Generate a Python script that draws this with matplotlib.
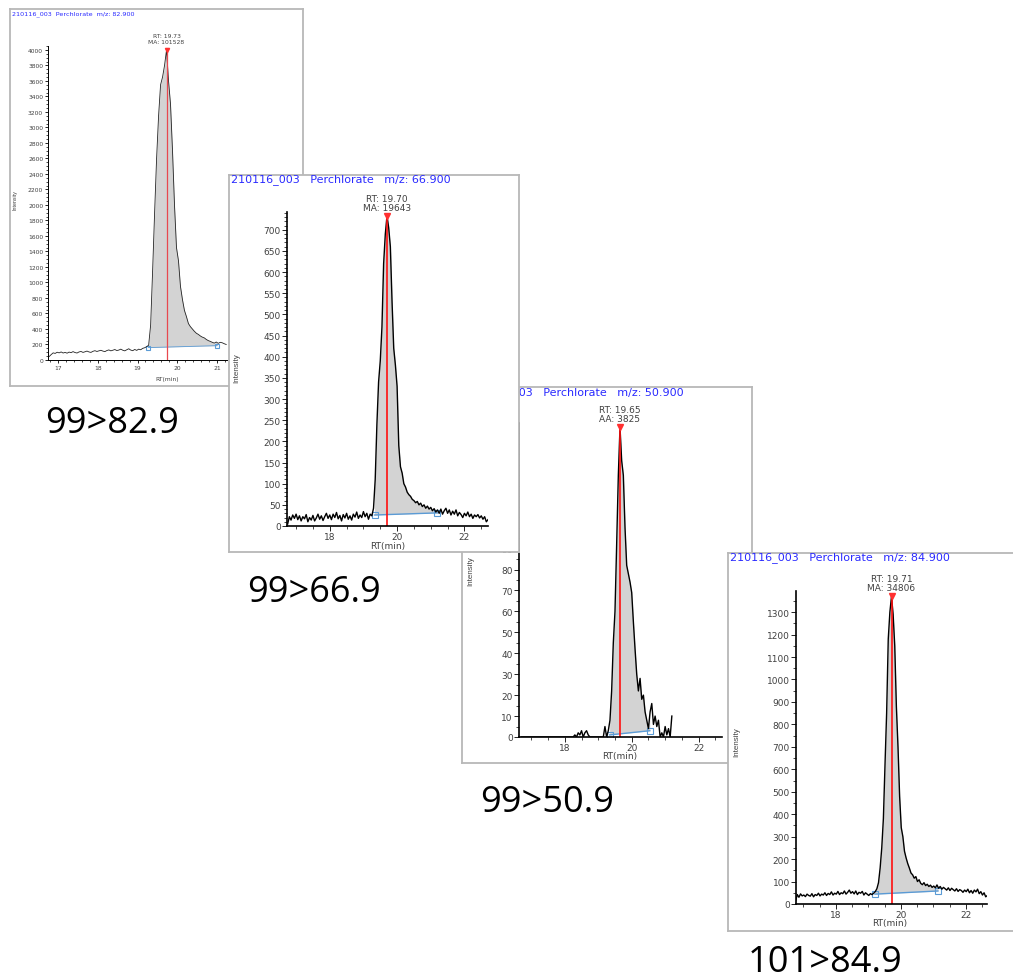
import matplotlib.pyplot as plt
import numpy as np
from matplotlib.ticker import MultipleLocator

# ---- data (0.05 min scan grid) ----
step = 0.05

# 99 > 82.9
start_829 = 16.78
int_829 = [45, 70, 92, 85, 100, 92, 104, 90, 98, 88,
           102, 95, 108, 96, 90, 104, 110, 98, 106, 115,
           104, 98, 112, 120, 110, 118, 125, 115, 108, 122,
           130, 118, 126, 135, 122, 128, 140, 126, 118, 132,
           145, 128, 120, 136, 124, 140, 132, 150, 158, 172,
           190, 450, 1150, 1900, 2600, 3150, 3550, 3650, 3800, 4000,
           3600, 3300, 2700, 2000, 1450, 1280, 950, 780, 640, 560,
           470, 430, 400, 370, 345, 330, 310, 295, 285, 265,
           250, 240, 228, 218, 232, 215, 228, 222, 210, 200]
rt_829 = 19.73
note_829 = 'RT: 19.73\nMA: 101528'
base_829 = ([19.27, 21.0], [160, 185])

# 99 > 66.9
start_669 = 16.75
int_669 = [5, 22, 14, 26, 18, 28, 15, 24, 12, 22,
           17, 27, 10, 20, 14, 25, 12, 19, 28, 16,
           24, 13, 22, 30, 18, 26, 15, 28, 20, 32,
           17, 25, 12, 27, 19, 30, 16, 24, 14, 28,
           21, 33, 18, 26, 20, 34, 22, 30, 16, 28,
           24, 42, 110, 240, 340, 390, 470, 620, 690, 733,
           705, 660, 530, 420, 380, 330, 190, 140, 125, 100,
           92, 80, 74, 70, 63, 60, 55, 58, 50, 54,
           46, 50, 42, 47, 40, 44, 36, 41, 33, 38,
           30, 40, 28, 36, 42, 30, 38, 26, 35, 28,
           38, 24, 32, 27, 20, 30, 24, 33, 22, 28,
           18, 26, 22, 27, 19, 24, 16, 22, 10, 15]
rt_669 = 19.70
note_669 = 'RT: 19.70\nMA: 19643'
base_669 = ([19.33, 21.2], [26, 31])

# 99 > 50.9
start_509 = 16.70
int_509 = [0, 0, 0, 0, 0, 0, 0, 0, 0, 0,
           0, 0, 0, 0, 0, 0, 0, 0, 0, 0,
           0, 0, 0, 0, 0, 0, 0, 0, 0, 0,
           0, 0, 1, 0, 2, 1, 3, 0, 2, 3,
           1, 0, 0, 0, 0, 0, 0, 0, 0, 0,
           5, 0, 3, 8, 22, 45, 60, 92, 125, 148,
           132, 125, 100, 82, 78, 74, 69, 55, 42, 30,
           22, 28, 18, 20, 12, 8, 4, 12, 16, 6,
           10, 5, 8, 0, 2, 0, 5, 1, 4, 0,
           10]
rt_509 = 19.65
note_509 = 'RT: 19.65\nAA: 3825'
base_509 = ([19.34, 20.54], [1, 3])

# 101 > 84.9
start_849 = 16.76
int_849 = [15, 42, 30, 45, 36, 40, 33, 44, 38, 35,
           46, 32, 42, 38, 48, 36, 44, 40, 50, 38,
           47, 42, 54, 40, 48, 44, 56, 42, 50, 46,
           58, 44, 52, 62, 48, 55, 45, 58, 42, 52,
           48, 56, 40, 50, 44, 38, 46, 42, 48, 55,
           68, 95, 160, 250, 380, 620, 850, 1180, 1300, 1370,
           1290, 1150, 880, 700, 480, 340, 300, 235, 205, 180,
           160, 138, 130, 115, 122, 100, 108, 92, 86, 95,
           82, 88, 78, 84, 74, 80, 72, 85, 70, 78,
           66, 74, 68, 62, 72, 60, 70, 64, 58, 68,
           56, 64, 60, 52, 62, 55, 66, 50, 60, 48,
           62, 54, 66, 46, 55, 40, 50, 32, 38]
rt_849 = 19.71
note_849 = 'RT: 19.71\nMA: 34806'
base_849 = ([19.2, 21.14], [44, 58])

titles = ['210116_003  Perchlorate  m/z: 82.900',
          '210116_003   Perchlorate   m/z: 66.900',
          '210116_003   Perchlorate   m/z: 50.900',
          '210116_003   Perchlorate   m/z: 84.900']
transitions = ['99>82.9', '99>66.9', '99>50.9', '101>84.9']

# ---- figure, positions given in screenshot pixels ----
W, H = 1013, 979
fig = plt.figure(figsize=(W / 100, H / 100), dpi=100)


def to_fig(box):
    x0, y0, x1, y1 = box
    return [x0 / W, 1 - y1 / H, (x1 - x0) / W, (y1 - y0) / H]


def panel(z, frame_box, ax_box, start, vals, rt, note, base, xlim, ylim,
          ymaj, ymin, xmaj, xmin, title, title_xy, ylab_xy, xlab_xy, small=False):
    fs = 4.3 if small else 6.5
    # the grey screenshot frame
    fr = fig.add_axes(to_fig(frame_box), zorder=z)
    fr.set_xlim(frame_box[0], frame_box[2])
    fr.set_ylim(frame_box[3], frame_box[1])
    fr.set_xticks([])
    fr.set_yticks([])
    for s in fr.spines.values():
        s.set_color('#b8b8b8')
        s.set_linewidth(1.3)
    fr.text(title_xy[0], title_xy[1], title, color='#2a2aff',
            fontsize=4.6 if small else 8, ha='left', va='center')
    fr.text(ylab_xy[0], ylab_xy[1], 'Intensity', rotation=90, color='#404040',
            fontsize=3.8 if small else 5.8, family='Liberation Sans',
            ha='center', va='center')
    fr.text(xlab_xy[0], xlab_xy[1], 'RT(min)', color='#404040', fontsize=fs,
            ha='center', va='center')

    t = np.round(start + step * np.arange(len(vals)), 2)
    y = np.array(vals, dtype=float)

    ax = fig.add_axes(to_fig(ax_box), zorder=z + 1)
    ax.patch.set_alpha(0)
    lw = 0.6 if small else 1.0

    # integrated area
    a, b = base[0]
    m = (t > a) & (t < b)
    tt = np.concatenate([[a], t[m], [b]])
    yy = np.interp(tt, t, y)
    bb = np.interp(tt, base[0], base[1])
    ax.fill_between(tt, bb, yy, color='#d3d3d3', lw=0)
    ax.plot(base[0], base[1], color='#5b9bd5', lw=lw, marker='s',
            ms=3 if small else 4.5, mfc='none', mec='#5b9bd5', mew=0.8)

    ax.plot(t, y, color='#222222' if small else 'black', lw=lw)
    peak = y[np.argmin(np.abs(t - rt))]
    ax.vlines(rt, 0, peak, color='#e8484f' if small else '#ff1010', lw=0.9 if small else 1.2)
    ax.plot([rt], [peak], marker='v', ms=3 if small else 4.5, color='#ff3030')
    ax.annotate(note, (rt, peak), xytext=(0, 4 if small else 3), textcoords='offset points',
                ha='center', va='bottom', fontsize=fs, color='#404040',
                linespacing=1.45 if small else 1.0, annotation_clip=False)

    ax.set_xlim(*xlim)
    ax.set_ylim(*ylim)
    ax.spines['top'].set_visible(False)
    ax.spines['right'].set_visible(False)
    for s in ('left', 'bottom'):
        ax.spines[s].set_linewidth(0.7 if small else 1.2)
    ax.yaxis.set_major_locator(MultipleLocator(ymaj))
    ax.yaxis.set_minor_locator(MultipleLocator(ymin))
    ax.xaxis.set_major_locator(MultipleLocator(xmaj))
    ax.xaxis.set_minor_locator(MultipleLocator(xmin))
    ax.tick_params(which='major', length=2.5 if small else 3.5, width=0.6,
                   labelsize=fs, labelcolor='#404040', pad=1)
    ax.tick_params(which='minor', length=1.3 if small else 2.2, width=0.5)
    return ax


panel(1, (10, 10, 303, 387), (48, 47, 227, 361), start_829, int_829, rt_829, note_829,
      base_829, (16.75, 21.25), (0, 4050), 200, 50, 1, 0.2, titles[0],
      (12, 14), (15, 200), (167, 379), small=True)
panel(3, (462, 388, 752, 764), (519, 424, 722, 738), start_509, int_509, rt_509, note_509,
      base_509, (16.63, 22.7), (0, 150), 10, 5, 2, 0.5, titles[2],
      (464, 393), (471, 571), (620, 757))
panel(5, (229, 176, 519, 553), (287, 213, 488, 527), start_669, int_669, rt_669, note_669,
      base_669, (16.73, 22.7), (0, 742), 50, 10, 2, 0.5, titles[1],
      (231, 180), (237, 368), (388, 546.5))
panel(7, (728, 554, 1020, 932), (796, 592, 987, 905), start_849, int_849, rt_849, note_849,
      base_849, (16.77, 22.65), (0, 1394), 100, 50, 2, 0.5, titles[3],
      (730, 558), (737, 742), (890, 924))

# transition labels under each screenshot
label_pos = [(45, 433), (247, 602), (480, 812), (748, 972)]
for txt, (x, y) in zip(transitions, label_pos):
    fig.text(x / W, 1 - y / H, txt, fontsize=26, family=['Open Sans', 'DejaVu Sans'],
             ha='left', va='baseline', color='black')

fig.savefig('out.png', dpi=100)
